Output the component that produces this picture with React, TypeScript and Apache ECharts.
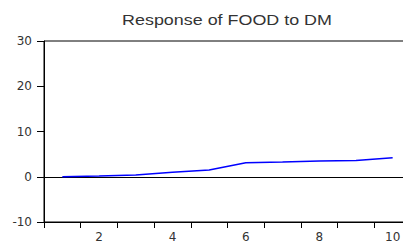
import React, { useEffect, useRef } from "react";
import * as echarts from "echarts";

const title = "Response of FOOD to DM";
const periods = ["1", "2", "3", "4", "5", "6", "7", "8", "9", "10"];
const response = [0.0, 0.15, 0.4, 1.0, 1.5, 3.1, 3.25, 3.5, 3.6, 4.2];
const yTicks = { min: -10, max: 30, interval: 10 };

export default function App() {
  const ref = useRef<HTMLDivElement>(null);
  useEffect(() => {
    if (!ref.current) return;
    const chart = echarts.init(ref.current, null, { renderer: "svg" });
    const titleFont = "Liberation Sans, Arial, sans-serif";
    const labelFont = "DejaVu Sans, sans-serif";
    chart.setOption({
      animation: false,
      backgroundColor: "#fff",
      graphic: [
        {
          type: "text",
          x: 227,
          y: 20,
          scaleX: 1.28,
          style: {
            text: title,
            textAlign: "center",
            textVerticalAlign: "middle",
            fontFamily: titleFont,
            fontSize: 14,
            fill: "#333",
          },
        },
      ],
      grid: {
        left: 44,
        top: 41,
        width: 367,
        height: 181,
        show: true,
        borderColor: "#000",
        borderWidth: 1,
        backgroundColor: "transparent",
        outerBoundsMode: "none",
        containLabel: false,
      },
      xAxis: [
        {
          type: "category",
          data: periods,
          boundaryGap: true,
          axisLine: { show: true, onZero: false, lineStyle: { color: "#000", width: 1 } },
          axisTick: { show: true, interval: 0, length: 6, lineStyle: { color: "#000" } },
          splitLine: { show: false },
          axisLabel: {
            margin: 9,
            interval: (index: number) => index % 2 === 1,
            fontFamily: labelFont,
            fontSize: 12,
            color: "#333",
          },
        },
        {
          type: "category",
          data: periods,
          position: "bottom",
          axisLine: { show: true, onZero: true, lineStyle: { color: "#000", width: 1 } },
          axisTick: { show: false },
          axisLabel: { show: false },
          splitLine: { show: false },
        },
      ],
      yAxis: {
        type: "value",
        min: yTicks.min,
        max: yTicks.max,
        interval: yTicks.interval,
        axisLine: { show: true, lineStyle: { color: "#000", width: 1 } },
        axisTick: { show: true, length: 7, lineStyle: { color: "#000" } },
        splitLine: { show: false },
        axisLabel: { margin: 12, fontFamily: labelFont, fontSize: 12, color: "#333" },
      },
      series: [
        {
          type: "line",
          xAxisIndex: 0,
          data: response,
          symbol: "none",
          lineStyle: { color: "#0000ff", width: 1.5 },
        },
      ],
    });
    return () => chart.dispose();
  }, []);
  return (
    <div
      ref={ref}
      style={{ position: "fixed", left: 0, top: 0, width: 403, height: 245 }}
    />
  );
}
